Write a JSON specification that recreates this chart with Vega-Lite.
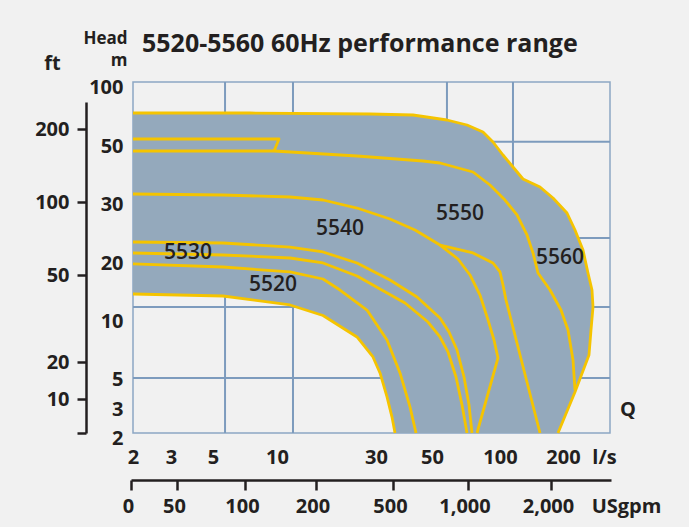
{
  "$schema": "https://vega.github.io/schema/vega-lite/v6.json",
  "width": 477,
  "height": 351,
  "autosize": {"type": "none"},
  "padding": {"left": 133, "top": 82, "right": 79, "bottom": 94},
  "background": "#f1f1f1",
  "title": {"text": "5520-5560 60Hz performance range", "anchor": "start", "frame": "group", "fontSize": 25, "fontWeight": "bold", "font": "Open Sans", "color": "#231f20", "dx": 9, "dy": 28, "offset": 0},
  "datasets": {
    "vgrid": [{"x": 5.94}, {"x": 13.23}, {"x": 61.0}, {"x": 120.6}],
    "hgrid": [{"y": 49.7}, {"y": 23.4}, {"y": 11.55}, {"y": 4.73}],
    "env": [
      {"i": 0, "x": 2, "y": 73.73}, {"i": 1, "x": 7.89, "y": 73.73}, {"i": 2, "x": 28.79, "y": 72.88}, {"i": 3, "x": 43.21, "y": 72.03},
      {"i": 4, "x": 61.03, "y": 67.8}, {"i": 5, "x": 75.74, "y": 63.56}, {"i": 6, "x": 87.5, "y": 57.63}, {"i": 7, "x": 94.85, "y": 49.66},
      {"i": 8, "x": 104.76, "y": 45.17}, {"i": 9, "x": 120.63, "y": 41.03}, {"i": 10, "x": 136.51, "y": 36.9}, {"i": 11, "x": 163.49, "y": 34.14},
      {"i": 12, "x": 184.13, "y": 30.34}, {"i": 13, "x": 208.51, "y": 27.63}, {"i": 14, "x": 225.53, "y": 24.75}, {"i": 15, "x": 242.55, "y": 21.36},
      {"i": 16, "x": 253.19, "y": 17.41}, {"i": 17, "x": 261.7, "y": 14.48}, {"i": 18, "x": 263.83, "y": 11.55}, {"i": 19, "x": 259.57, "y": 8.79},
      {"i": 20, "x": 255.32, "y": 6.64}, {"i": 21, "x": 225.53, "y": 3.8}, {"i": 22, "x": 192.06, "y": 2},
      {"i": 23, "x": 36.79, "y": 2}, {"i": 24, "x": 35.71, "y": 2.55}, {"i": 25, "x": 33.93, "y": 3.47}, {"i": 26, "x": 31.43, "y": 5.09},
      {"i": 27, "x": 29.39, "y": 6.47}, {"i": 28, "x": 26.16, "y": 8.19}, {"i": 29, "x": 19.29, "y": 10.09}, {"i": 30, "x": 12.63, "y": 11.9},
      {"i": 31, "x": 5.78, "y": 13.45}, {"i": 32, "x": 2, "y": 13.79}
    ],
    "curves": [
      {"line": "outer", "i": 0, "x": 2, "y": 73.73}, {"line": "outer", "i": 1, "x": 7.89, "y": 73.73}, {"line": "outer", "i": 2, "x": 28.79, "y": 72.88},
      {"line": "outer", "i": 3, "x": 43.21, "y": 72.03}, {"line": "outer", "i": 4, "x": 61.03, "y": 67.8}, {"line": "outer", "i": 5, "x": 75.74, "y": 63.56},
      {"line": "outer", "i": 6, "x": 87.5, "y": 57.63}, {"line": "outer", "i": 7, "x": 94.85, "y": 49.66}, {"line": "outer", "i": 8, "x": 104.76, "y": 45.17},
      {"line": "outer", "i": 9, "x": 120.63, "y": 41.03}, {"line": "outer", "i": 10, "x": 136.51, "y": 36.9}, {"line": "outer", "i": 11, "x": 163.49, "y": 34.14},
      {"line": "outer", "i": 12, "x": 184.13, "y": 30.34}, {"line": "outer", "i": 13, "x": 208.51, "y": 27.63}, {"line": "outer", "i": 14, "x": 225.53, "y": 24.75},
      {"line": "outer", "i": 15, "x": 242.55, "y": 21.36}, {"line": "outer", "i": 16, "x": 253.19, "y": 17.41}, {"line": "outer", "i": 17, "x": 261.7, "y": 14.48},
      {"line": "outer", "i": 18, "x": 263.83, "y": 11.55}, {"line": "outer", "i": 19, "x": 259.57, "y": 8.79}, {"line": "outer", "i": 20, "x": 255.32, "y": 6.64},
      {"line": "outer", "i": 21, "x": 225.53, "y": 3.8}, {"line": "outer", "i": 22, "x": 192.06, "y": 2},
      {"line": "l139", "i": 0, "x": 2, "y": 51.69}, {"line": "l139", "i": 1, "x": 10.4, "y": 51.69}, {"line": "l139", "i": 2, "x": 9.77, "y": 46.55},
      {"line": "l151", "i": 0, "x": 2, "y": 46.55}, {"line": "l151", "i": 1, "x": 9.77, "y": 46.55}, {"line": "l151", "i": 2, "x": 26.16, "y": 44.83},
      {"line": "l151", "i": 3, "x": 46.79, "y": 43.1}, {"line": "l151", "i": 4, "x": 55.88, "y": 42.41}, {"line": "l151", "i": 5, "x": 80.15, "y": 39.31},
      {"line": "l151", "i": 6, "x": 92.65, "y": 34.83}, {"line": "l151", "i": 7, "x": 107.94, "y": 29.83}, {"line": "l151", "i": 8, "x": 126.98, "y": 27.29},
      {"line": "l151", "i": 9, "x": 142.86, "y": 23.9}, {"line": "l151", "i": 10, "x": 152.38, "y": 20.85}, {"line": "l151", "i": 11, "x": 160.32, "y": 17.41},
      {"line": "l151", "i": 12, "x": 179.37, "y": 14.48}, {"line": "l151", "i": 13, "x": 196.83, "y": 11.03}, {"line": "l151", "i": 14, "x": 210.64, "y": 8.79},
      {"line": "l151", "i": 15, "x": 221.28, "y": 6.21}, {"line": "l151", "i": 16, "x": 225.53, "y": 3.93},
      {"line": "l194", "i": 0, "x": 2, "y": 31.72}, {"line": "l194", "i": 1, "x": 5.78, "y": 31.38}, {"line": "l194", "i": 2, "x": 12.63, "y": 30.69},
      {"line": "l194", "i": 3, "x": 19.29, "y": 29.83}, {"line": "l194", "i": 4, "x": 26.16, "y": 28.47}, {"line": "l194", "i": 5, "x": 35.0, "y": 26.61},
      {"line": "l194", "i": 6, "x": 43.93, "y": 24.75}, {"line": "l194", "i": 7, "x": 55.88, "y": 22.2}, {"line": "l194", "i": 8, "x": 69.12, "y": 19.83},
      {"line": "l194", "i": 9, "x": 77.94, "y": 17.07}, {"line": "l194", "i": 10, "x": 85.29, "y": 13.62}, {"line": "l194", "i": 11, "x": 91.18, "y": 9.66},
      {"line": "l194", "i": 12, "x": 95.59, "y": 7.93}, {"line": "l194", "i": 13, "x": 98.53, "y": 6.38}, {"line": "l194", "i": 14, "x": 83.09, "y": 2},
      {"line": "l194b", "i": 0, "x": 55.88, "y": 22.2}, {"line": "l194b", "i": 1, "x": 80.15, "y": 20.85}, {"line": "l194b", "i": 2, "x": 94.85, "y": 19.14},
      {"line": "l194b", "i": 3, "x": 100, "y": 17.59}, {"line": "l194b", "i": 4, "x": 104.76, "y": 15.34}, {"line": "l194b", "i": 5, "x": 109.52, "y": 12.76},
      {"line": "l194b", "i": 6, "x": 163.49, "y": 2},
      {"line": "l242", "i": 0, "x": 2, "y": 22.71}, {"line": "l242", "i": 1, "x": 5.78, "y": 22.54}, {"line": "l242", "i": 2, "x": 12.63, "y": 21.86},
      {"line": "l242", "i": 3, "x": 19.29, "y": 21.02}, {"line": "l242", "i": 4, "x": 26.16, "y": 19.14}, {"line": "l242", "i": 5, "x": 35.0, "y": 16.21},
      {"line": "l242", "i": 6, "x": 44.64, "y": 13.28}, {"line": "l242", "i": 7, "x": 55.88, "y": 9.83}, {"line": "l242", "i": 8, "x": 62.5, "y": 8.62},
      {"line": "l242", "i": 9, "x": 68.38, "y": 7.07}, {"line": "l242", "i": 10, "x": 73.53, "y": 4.8}, {"line": "l242", "i": 11, "x": 77.21, "y": 2.97},
      {"line": "l242", "i": 12, "x": 79.41, "y": 2},
      {"line": "l253", "i": 0, "x": 2, "y": 20.85}, {"line": "l253", "i": 1, "x": 5.78, "y": 20.51}, {"line": "l253", "i": 2, "x": 12.63, "y": 20},
      {"line": "l253", "i": 3, "x": 19.29, "y": 19.14}, {"line": "l253", "i": 4, "x": 26.16, "y": 16.9}, {"line": "l253", "i": 5, "x": 31.43, "y": 14.66},
      {"line": "l253", "i": 6, "x": 40.36, "y": 12.24}, {"line": "l253", "i": 7, "x": 48.57, "y": 9.48}, {"line": "l253", "i": 8, "x": 55.88, "y": 8.19},
      {"line": "l253", "i": 9, "x": 61.76, "y": 6.9}, {"line": "l253", "i": 10, "x": 67.65, "y": 4.8}, {"line": "l253", "i": 11, "x": 72.06, "y": 2.97},
      {"line": "l253", "i": 12, "x": 75.74, "y": 2},
      {"line": "l264", "i": 0, "x": 2, "y": 18.97}, {"line": "l264", "i": 1, "x": 5.78, "y": 18.45}, {"line": "l264", "i": 2, "x": 12.63, "y": 17.59},
      {"line": "l264", "i": 3, "x": 19.29, "y": 16.38}, {"line": "l264", "i": 4, "x": 22.73, "y": 14.48}, {"line": "l264", "i": 5, "x": 28.18, "y": 11.03},
      {"line": "l264", "i": 6, "x": 33.93, "y": 7.93}, {"line": "l264", "i": 7, "x": 38.57, "y": 5.09}, {"line": "l264", "i": 8, "x": 42.14, "y": 2.9},
      {"line": "l264", "i": 9, "x": 44.29, "y": 2},
      {"line": "lbot", "i": 0, "x": 2, "y": 13.79}, {"line": "lbot", "i": 1, "x": 5.78, "y": 13.45}, {"line": "lbot", "i": 2, "x": 12.63, "y": 11.9},
      {"line": "lbot", "i": 3, "x": 19.29, "y": 10.09}, {"line": "lbot", "i": 4, "x": 26.16, "y": 8.19}, {"line": "lbot", "i": 5, "x": 29.39, "y": 6.47},
      {"line": "lbot", "i": 6, "x": 31.43, "y": 5.09}, {"line": "lbot", "i": 7, "x": 33.93, "y": 3.47}, {"line": "lbot", "i": 8, "x": 35.71, "y": 2.55},
      {"line": "lbot", "i": 9, "x": 36.79, "y": 2}
    ],
    "labels": [
      {"t": "5520", "x": 9.69, "y": 15.34},
      {"t": "5530", "x": 3.81, "y": 20.85},
      {"t": "5540", "x": 22.73, "y": 24.92},
      {"t": "5550", "x": 70.59, "y": 27.46},
      {"t": "5560", "x": 195.24, "y": 20}
    ],
    "axes2": [{"gpm": 0, "ft": 0}]
  },
  "layer": [
    {
      "layer": [
        {
          "data": {"name": "vgrid"},
          "mark": {"type": "rule", "color": "#7d9bbd", "strokeWidth": 2},
          "encoding": {
            "x": {"field": "x", "type": "quantitative",
              "scale": {"type": "linear", "domain": [2, 3, 5, 10, 30, 50, 100, 200, 300], "range": [0, 38, 80, 144, 243, 299, 367, 430, 477], "nice": false, "zero": false},
              "axis": {"orient": "bottom", "values": [2, 3, 5, 10, 30, 50, 100, 200], "domain": false, "ticks": false, "labelPadding": 14,
                "title": "l/s", "titleX": 471, "titleY": 14, "titleBaseline": "top", "titleAlign": "center", "titleAngle": 0}}
          }
        },
        {
          "data": {"name": "hgrid"},
          "mark": {"type": "rule", "color": "#7d9bbd", "strokeWidth": 2},
          "encoding": {
            "y": {"field": "y", "type": "quantitative",
              "scale": {"type": "linear", "domain": [2, 3, 5, 10, 20, 30, 50, 100], "range": [351, 322, 292, 234, 176, 117, 59, 0], "nice": false, "zero": false},
              "axis": {"orient": "left", "values": [2, 3, 5, 10, 20, 30, 50, 100], "domain": false, "ticks": false, "labelPadding": 10, "labelOffset": 5,
                "title": ["Head", "m"], "titleFontSize": 17, "titleAngle": 0, "titleAlign": "right", "titleBaseline": "alphabetic", "titleX": -6, "titleY": -39, "titleLineHeight": 22}}
          }
        },
        {
          "data": {"name": "env"},
          "mark": {"type": "line", "fill": "#94a9bc", "strokeWidth": 0},
          "encoding": {
            "x": {"field": "x", "type": "quantitative"},
            "y": {"field": "y", "type": "quantitative"},
            "order": {"field": "i", "type": "quantitative"}
          }
        },
        {
          "data": {"name": "curves"},
          "mark": {"type": "line", "stroke": "#f5c400", "strokeWidth": 2.8, "strokeJoin": "round"},
          "encoding": {
            "x": {"field": "x", "type": "quantitative"},
            "y": {"field": "y", "type": "quantitative"},
            "detail": {"field": "line", "type": "nominal"},
            "order": {"field": "i", "type": "quantitative"}
          }
        },
        {
          "data": {"name": "labels"},
          "mark": {"type": "text", "fontSize": 21, "fontWeight": 600, "font": "Open Sans", "color": "#231f20", "align": "center", "baseline": "middle"},
          "encoding": {
            "x": {"field": "x", "type": "quantitative"},
            "y": {"field": "y", "type": "quantitative"},
            "text": {"field": "t", "type": "nominal"}
          }
        },
        {
          "data": {"values": [{}]},
          "mark": {"type": "text", "text": "Q", "fontSize": 20, "fontWeight": "bold", "font": "Open Sans", "color": "#231f20", "align": "center", "baseline": "middle"},
          "encoding": {
            "x": {"datum": 338},
            "y": {"datum": 2.79}
          }
        }
      ]
    },
    {
      "data": {"name": "axes2"},
      "mark": {"type": "point", "opacity": 0},
      "encoding": {
        "x": {"field": "gpm", "type": "quantitative",
          "scale": {"type": "linear", "domain": [0, 50, 100, 200, 500, 1000, 2000, 2700], "range": [-2, 44, 112, 182.5, 260, 334.5, 418, 478], "nice": false, "zero": false},
          "axis": {"orient": "bottom", "offset": 47, "values": [0, 50, 100, 200, 500, 1000, 2000], "labelExpr": "format(datum.value, ',')", "domainWidth": 2.5, "tickSize": 10, "tickWidth": 2.5, "labelPadding": 6, "labelOffset": -3,
            "title": "USgpm", "titleX": 493, "titleY": 16, "titleBaseline": "top", "titleAlign": "center", "titleAngle": 0}},
        "y": {"field": "ft", "type": "quantitative",
          "scale": {"type": "linear", "domain": [0, 10, 20, 50, 100, 200, 237], "range": [351, 317, 280, 193, 120, 47, 20], "nice": false, "zero": false},
          "axis": {"orient": "left", "offset": 47, "values": [0, 10, 20, 50, 100, 200], "labelExpr": "datum.value == 0 ? '' : datum.label", "domainWidth": 2.5, "tickSize": 9, "tickWidth": 2.5, "labelPadding": 8,
            "title": "ft", "titleAngle": 0, "titleAlign": "center", "titleBaseline": "middle", "titleX": -34, "titleY": -19}}
      }
    }
  ],
  "resolve": {"scale": {"x": "independent", "y": "independent"}},
  "config": {
    "font": "Open Sans",
    "view": {"stroke": "#8ca6c3", "strokeWidth": 1.5},
    "axis": {"labelFont": "Open Sans", "labelFontSize": 20, "labelFontWeight": "bold", "labelColor": "#231f20", "titleFont": "Open Sans", "titleFontSize": 20, "titleFontWeight": "bold", "titleColor": "#231f20", "labelFlush": false, "labelOverlap": false, "labelBound": false, "grid": false, "domainColor": "#231f20", "tickColor": "#231f20"}
  }
}
